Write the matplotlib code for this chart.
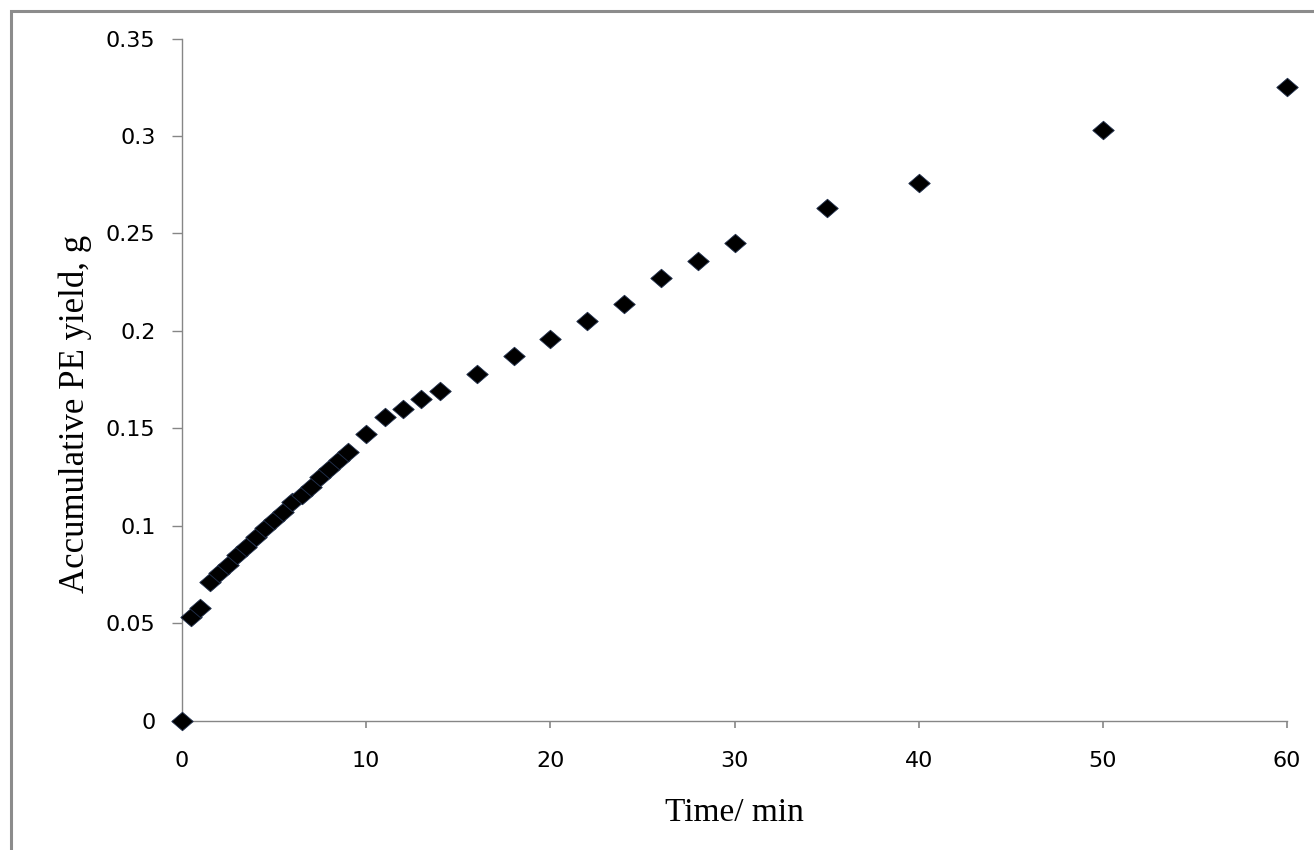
import matplotlib.pyplot as plt
from matplotlib.patches import Rectangle
from matplotlib.ticker import FuncFormatter

# accumulative PE yield (g) against time (min)
time_min = [0, 0.5, 1, 1.5, 2, 2.5, 3, 3.5, 4, 4.5, 5, 5.5, 6, 6.5, 7, 7.5, 8, 8.5, 9,
            10, 11, 12, 13, 14, 16, 18, 20, 22, 24, 26, 28, 30, 35, 40, 50, 60]
pe_yield = [0, 0.053, 0.058, 0.071, 0.076, 0.080, 0.085, 0.089, 0.094, 0.099, 0.103,
            0.107, 0.112, 0.116, 0.120, 0.125, 0.129, 0.134, 0.138,
            0.147, 0.156, 0.160, 0.165, 0.169, 0.178, 0.187, 0.196, 0.205, 0.214,
            0.227, 0.236, 0.245, 0.263, 0.276, 0.303, 0.325]

xticks = [0, 10, 20, 30, 40, 50, 60]
yticks = [0, 0.05, 0.1, 0.15, 0.2, 0.25, 0.3, 0.35]

axis_grey = '#868686'
ticksize = 16
labelsize = 24

fig = plt.figure(figsize=(13.14, 8.5), dpi=100)
ax = fig.add_axes([0.1385, 0.1521, 0.8410, 0.8026])

# slightly flattened diamond marker
diamond = [(-1, 0), (0, -0.86), (1, 0), (0, 0.86), (-1, 0)]
ax.plot(time_min, pe_yield, linestyle='none', marker=diamond, markersize=15.5,
        markerfacecolor='k', markeredgecolor='#23324f', markeredgewidth=0.6,
        clip_on=False, zorder=3)

ax.set_xlim(0, 60)
ax.set_ylim(0, 0.35)
ax.set_xticks(xticks)
ax.set_yticks(yticks)
ax.yaxis.set_major_formatter(FuncFormatter(lambda v, p: f'{v:g}'))

for side in ['top', 'right']:
    ax.spines[side].set_visible(False)
for side in ['left', 'bottom']:
    ax.spines[side].set_color(axis_grey)
    ax.spines[side].set_linewidth(1.0)

ax.tick_params(axis='x', direction='out', length=5, width=1.2, color=axis_grey,
               labelsize=ticksize, pad=17)
ax.tick_params(axis='y', direction='out', length=7, width=1.0, color=axis_grey,
               labelsize=ticksize, pad=12)

ax.set_xlabel('Time/ min', fontsize=labelsize, family='Liberation Serif')
ax.set_ylabel('Accumulative PE yield, g', fontsize=25, family='Liberation Serif')
ax.xaxis.set_label_coords(0.5, -0.112)
ax.yaxis.set_label_coords(-0.081, 0.45)

# chart area border (runs off the right and bottom edges)
fig.patches.append(Rectangle((10.5 / 1314, -0.05), 1.1, 1 - 10.5 / 850 + 0.05,
                             transform=fig.transFigure, fill=False,
                             edgecolor='#8c8c8c', linewidth=2.2))

fig.savefig('out.png', dpi=100)
